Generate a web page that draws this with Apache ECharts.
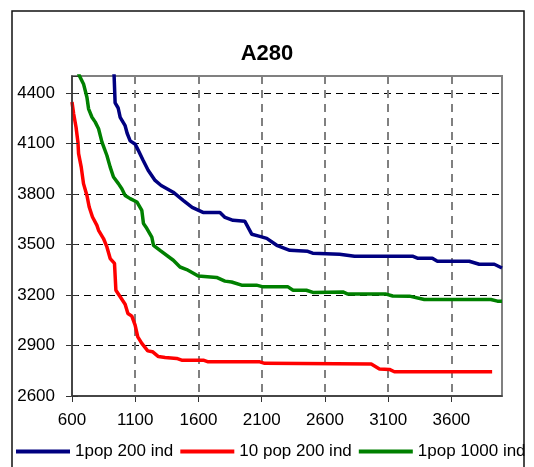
<!DOCTYPE html>
<html>
<head>
<meta charset="utf-8">
<script src="https://cdn.jsdelivr.net/npm/echarts@6/dist/echarts.min.js"></script>
<style>
  html, body { margin: 0; padding: 0; background: #fff; }
  #chart { width: 534px; height: 467px; }
</style>
</head>
<body>
<div id="chart"></div>
<script>
// [generation, best value] pairs
var seriesNames = ['1pop 200 ind', '10 pop 200 ind', '1pop 1000 ind'];

var pop1ind200 = [
    [925, 4600], [933, 4500], [941, 4340], [965, 4310], [981, 4255], [1020, 4205],
    [1036, 4160], [1060, 4115], [1100, 4095], [1123, 4060], [1162, 4000], [1202, 3940],
    [1257, 3880], [1305, 3850], [1400, 3810], [1479, 3762], [1550, 3720], [1636, 3690],
    [1770, 3690], [1810, 3660], [1873, 3643], [1967, 3637], [2022, 3560], [2085, 3548],
    [2140, 3536], [2219, 3495], [2322, 3465], [2464, 3459], [2503, 3448], [2716, 3442],
    [2834, 3430], [3292, 3430], [3331, 3418], [3449, 3418], [3489, 3400], [3741, 3400],
    [3820, 3382], [3939, 3382], [4000, 3360]
];

var pop10ind200 = [
    [600, 4345], [613, 4276], [632, 4196], [647, 4107], [652, 4039], [673, 3959],
    [691, 3861], [718, 3791], [736, 3722], [762, 3663], [797, 3613], [810, 3584],
    [849, 3535], [876, 3485], [902, 3416], [936, 3387], [947, 3228], [981, 3189],
    [1020, 3145], [1042, 3090], [1073, 3074], [1099, 3021], [1120, 2951], [1152, 2912],
    [1199, 2868], [1236, 2863], [1283, 2834], [1336, 2829], [1428, 2823], [1467, 2813],
    [1638, 2813], [1677, 2803], [2085, 2803], [2124, 2794], [2966, 2790], [3031, 2760],
    [3110, 2758], [3149, 2744], [3922, 2744]
];

var pop1ind1000 = [
    [620, 4590], [658, 4502], [691, 4453], [718, 4374], [731, 4305], [758, 4255],
    [784, 4226], [810, 4187], [837, 4107], [876, 4028], [902, 3959], [928, 3900],
    [967, 3861], [994, 3831], [1020, 3791], [1060, 3772], [1113, 3752], [1152, 3702],
    [1165, 3624], [1191, 3596], [1231, 3544], [1244, 3495], [1296, 3465], [1401, 3406],
    [1454, 3366], [1507, 3351], [1598, 3313], [1743, 3304], [1809, 3282], [1862, 3277],
    [1941, 3258], [2059, 3258], [2111, 3248], [2308, 3248], [2348, 3228], [2453, 3228],
    [2505, 3215], [2742, 3218], [2781, 3205], [3084, 3205], [3136, 3194], [3268, 3193],
    [3386, 3173], [3912, 3173], [3964, 3163], [4000, 3163]
];

var xMin = 600, xMax = 4000, xStep = 500;
var yMin = 2600, yMax = 4500, yStep = 300;

var chart = echarts.init(document.getElementById('chart'));

var font = 'Liberation Sans, Arial, sans-serif';
var plain = function (v) { return String(v); };

var option = {
    backgroundColor: '#fff',
    animation: false,
    title: {
        text: 'A280',
        left: 'center',
        top: 38,
        textStyle: {
            fontFamily: font,
            fontSize: 22,
            fontWeight: 'bold',
            color: '#000'
        }
    },
    graphic: [
        {
            type: 'rect',
            shape: { x: 12, y: 11, width: 512, height: 480 },
            style: { fill: null, stroke: '#111', lineWidth: 1.5 },
            z: 100
        }
    ],
    legend: {
        data: seriesNames,
        left: 16,
        top: 443,
        padding: 0,
        itemGap: 7,
        itemWidth: 54,
        itemHeight: 4,
        icon: 'rect',
        textStyle: { fontFamily: font, fontSize: 17, color: '#000' }
    },
    // border drawn above the split lines, like the reference frame
    grid: {
        left: 72,
        top: 76,
        right: 32,
        bottom: 71,
        show: true,
        z: 3,
        borderColor: '#808080',
        borderWidth: 2,
        backgroundColor: 'transparent'
    },
    xAxis: [
        {
            type: 'value',
            min: xMin,
            max: xMax,
            interval: xStep,
            axisLine: { show: false },
            axisTick: { show: true, length: 6, lineStyle: { color: '#333' } },
            axisLabel: {
                margin: 16,
                showMaxLabel: false,
                formatter: plain,
                fontFamily: font,
                fontSize: 17,
                color: '#000'
            },
            splitLine: {
                show: true,
                lineStyle: { color: '#808080', width: 2, type: [8, 6] }
            }
        },
        {
            type: 'value',
            min: xMin,
            max: xMax,
            position: 'bottom',
            z: 5,
            axisLine: { show: true, onZero: false, lineStyle: { color: '#333', width: 1.5 } },
            axisTick: { show: false },
            axisLabel: { show: false },
            splitLine: { show: false }
        }
    ],
    yAxis: [
        {
            type: 'value',
            min: yMin,
            max: yMax,
            interval: yStep,
            axisLine: { show: false },
            axisTick: { show: true, length: 6, lineStyle: { color: '#333' } },
            axisLabel: {
                margin: 17,
                showMaxLabel: false,
                formatter: plain,
                fontFamily: font,
                fontSize: 17,
                color: '#000'
            },
            splitLine: {
                show: true,
                lineStyle: { color: '#000', width: 1, type: [7, 5] }
            }
        },
        {
            type: 'value',
            min: yMin,
            max: yMax,
            interval: yStep,
            position: 'left',
            z: 5,
            axisLine: { show: true, onZero: false, lineStyle: { color: '#333', width: 1.5 } },
            axisTick: { show: true, inside: true, length: 6, lineStyle: { color: '#333' } },
            axisLabel: { show: false },
            splitLine: { show: false }
        }
    ],
    series: [
        {
            name: seriesNames[0],
            type: 'line',
            data: pop1ind200,
            showSymbol: false,
            symbol: 'none',
            color: '#000080',
            lineStyle: { width: 3.5, color: '#000080' }
        },
        {
            name: seriesNames[1],
            type: 'line',
            data: pop10ind200,
            showSymbol: false,
            symbol: 'none',
            color: '#ff0000',
            lineStyle: { width: 3.5, color: '#ff0000' }
        },
        {
            name: seriesNames[2],
            type: 'line',
            data: pop1ind1000,
            showSymbol: false,
            symbol: 'none',
            color: '#008000',
            lineStyle: { width: 3.5, color: '#008000' }
        }
    ]
};

chart.setOption(option);
</script>
</body>
</html>
